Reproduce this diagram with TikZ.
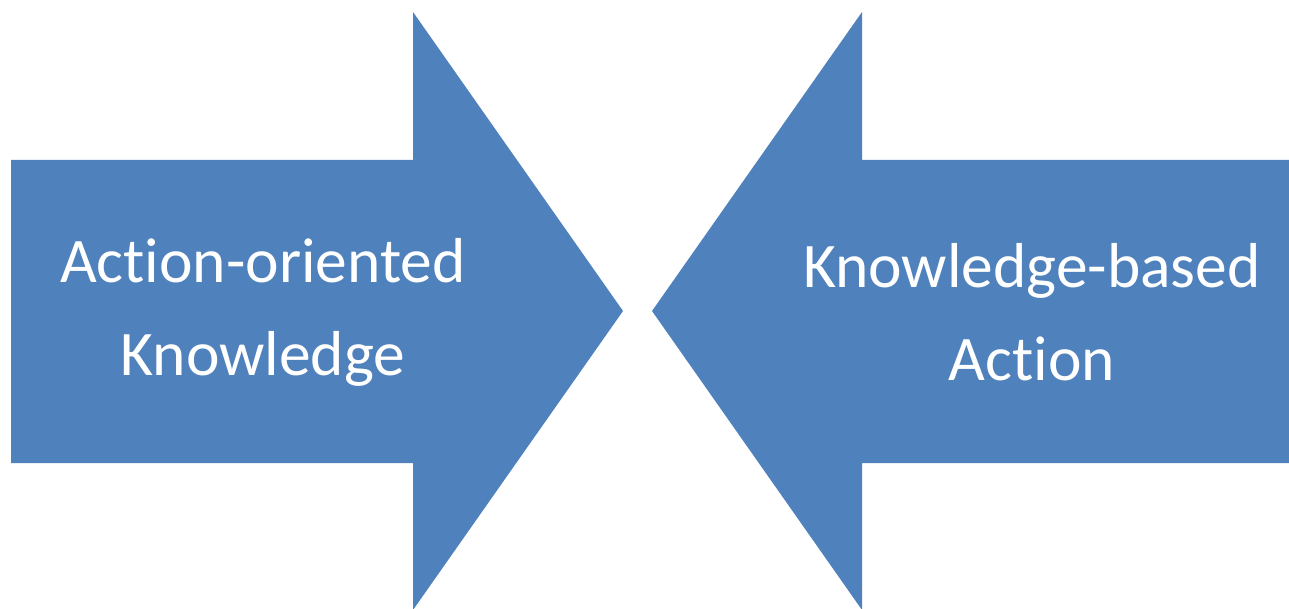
\documentclass[tikz,border=0pt]{standalone}
\usepackage{fontspec}
\setmainfont{Carlito}[RawFeature={-liga;-clig;-calt;-dlig}]
\definecolor{arrowblue}{HTML}{4F81BD}

\begin{document}
\begin{tikzpicture}[x=1pt,y=-1pt,
        label/.style={text=white,align=center,font=\fontsize{63.5}{93}\selectfont}]
        \useasboundingbox (0,0) rectangle (1289,609);

        % left arrow, pointing right
        \fill[arrowblue] (11,160)--(413,160)--(413,12)--(623,311)--(413,610)--(413,463)--(11,463)--cycle;
        % right arrow, pointing left
        \fill[arrowblue] (1289,160)--(862,160)--(862,12)--(652,311)--(862,610)--(862,463)--(1289,463)--cycle;

        \node[label] (aok) at (263,312) {Action-oriented\\Knowledge};
        \node[label] (kba) at (1032,312) {Knowledge-based\\Action};

    \end{tikzpicture}
\end{document}
